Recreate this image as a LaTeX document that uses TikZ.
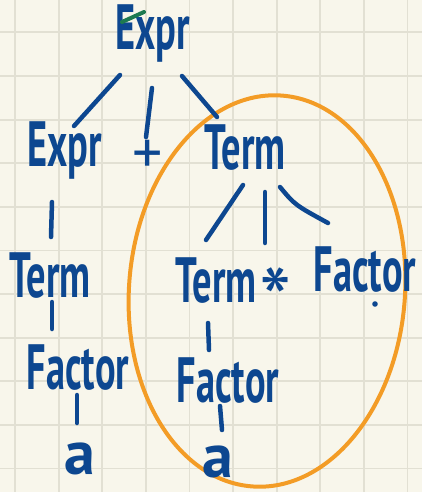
\documentclass[tikz,border=0pt]{standalone}
\usepackage{fontspec}
\setmainfont{PT Sans}
\usepackage{graphicx}
\usetikzlibrary{calc}
\definecolor{paper}{HTML}{F8F6EB}
\definecolor{gridc}{HTML}{E2E0D3}
\definecolor{ink}{HTML}{0D4790}
\definecolor{hl}{HTML}{F39C26}
\definecolor{tick}{HTML}{1D7A50}
\newcommand{\hw}[1]{\scalebox{0.6}[1]{#1}}
\tikzset{
  word/.style={text=ink, font=\fontsize{64}{64}\selectfont\bfseries, inner sep=0pt, anchor=base},
  sym/.style={text=ink, font=\fontsize{60}{60}\selectfont, inner sep=0pt, anchor=base},
  bigsym/.style={text=ink, font=\fontsize{92}{92}\selectfont, inner sep=0pt, anchor=base},
  leaf/.style={text=ink, font=\fontsize{62}{62}\selectfont\bfseries, inner sep=0pt, anchor=base},
  edge/.style={draw=ink, line width=4.5pt, line cap=round},
  gridline/.style={draw=gridc, line width=1.8pt},
  loop/.style={draw=hl, line width=4pt},
}
\begin{document}
\begin{tikzpicture}[x=1pt,y=-1pt]
\fill[paper] (0,0) rectangle (422,492);
\useasboundingbox (0,0) rectangle (422,492);
\foreach \i in {0,...,9} \draw[gridline] ({15+43.6*\i},0) -- ({15+43.6*\i},492);
\foreach \i in {0,...,10} \draw[gridline] (0,{32.4+43.6*\i}) -- (422,{32.4+43.6*\i});
% highlight ellipse
\draw[loop, rotate around={-4.4:(267,291)}] (267,291) ellipse [x radius=138, y radius=196];
% words
\node[word] (top) at (153,50) {\hw{Expr}};
\node[word] (lexpr) at (65,166) {\hw{Expr}};
\node[sym] (plus) at (148,173) {+};
\node[word] (rterm) at (245,169) {\hw{Term}};
\node[word] (lterm) at (50,297) {\hw{Term}};
\node[word] (mterm) at (216,302) {\hw{Term}};
\node[bigsym] (star) at (276,333) {*};
\node[word] (rfactor) at (365,291) {\hw{Factor}};
\node[word] (lfactor) at (78,389) {\hw{Factor}};
\node[word] (mfactor) at (228,402) {\hw{Factor}};
\node[leaf] (la) at (80,474) {a};
\node[leaf] (ma) at (218,477) {a};
% marks
\draw[line width=4pt, draw=tick, line cap=round] ($(top.base)+(-31,-28)$) -- ($(top.base)+(-9,-38)$);
\fill[ink] ($(rfactor.base)+(10,13)$) circle (2.8);
% connectors
\draw[edge] ($(top.base)+(-33,25)$) -- ($(lexpr.base)+(9,-40)$);
\draw[edge] ($(top.base)+(-1,38)$) -- ($(plus.base)+(-2,-36)$);
\draw[edge] ($(top.base)+(29,26)$) -- ($(rterm.base)+(-28,-52)$);
\draw[edge] ($(rterm.base)+(-2,16)$) -- ($(mterm.base)+(-10,-62)$);
\draw[edge] ($(rterm.base)+(20,23)$) -- ($(star.base)+(-11,-90)$);
\draw[edge] ($(rterm.base)+(35,18)$) .. controls ($(rterm.base)+(50,36)$) .. ($(rfactor.base)+(-37,-68)$);
\draw[edge] ($(lexpr.base)+(-13,36)$) -- ($(lterm.base)+(1,-60)$);
\draw[edge] ($(lterm.base)+(2,5)$) -- ($(lfactor.base)+(-26,-60)$);
\draw[edge] ($(lfactor.base)+(-1,6)$) -- ($(la.base)+(-3,-51)$);
\draw[edge] ($(mterm.base)+(-8,21)$) -- ($(mfactor.base)+(-19,-52)$);
\draw[edge] ($(mfactor.base)+(-8,4)$) -- ($(ma.base)+(4,-47)$);
\end{tikzpicture}
\end{document}
